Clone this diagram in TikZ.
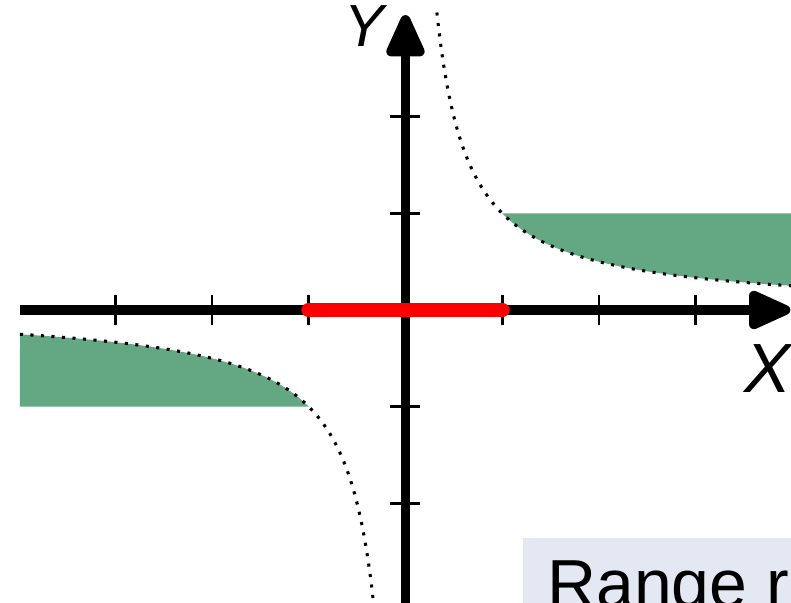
\documentclass[tikz,border=0pt]{standalone}
\usepackage{fontspec}
\setmainfont{Liberation Sans}
\usetikzlibrary{arrows.meta}
\definecolor{regiongreen}{RGB}{99,168,131}
\definecolor{boxbg}{RGB}{228,232,242}
\begin{document}
\begin{tikzpicture}[x=1cm,y=1cm,
  axisline/.style={line width=2.9pt},
  tickline/.style={line width=0.8pt},
  hyper/.style={line width=0.9pt, dash pattern=on 0.9pt off 2.2pt},
  axistip/.style={-{Triangle[length=14.5pt,width=12pt,round]}},
  axlab/.style={inner sep=0pt, anchor=base}]
\useasboundingbox (-4.193,-3.020) rectangle (3.987,3.206);
\clip (-4.193,-3.020) rectangle (3.987,3.206);
% shaded regions
\fill[regiongreen] (1,1) -- plot[domain=1:4.3,samples=80] (\x,{1/\x}) -- (4.3,1) -- cycle;
\fill[regiongreen] (-3.987,-1) -- (-1,-1) -- plot[domain=-1:-3.987,samples=80] (\x,{1/\x}) -- cycle;
% hyperbola
\draw[hyper] plot[domain=0.325:4.3,samples=200,smooth] (\x,{1/\x});
\draw[hyper] plot[domain=-3.987:-0.325,samples=200,smooth] (\x,{1/\x});
% ticks
\foreach \t in {-3,-2,-1,1,2,3} \draw[tickline] (\t,-0.155) -- (\t,0.155);
\foreach \t in {-2,-1,1,2} \draw[tickline] (-0.155,\t) -- (0.155,\t);
% axes
\coordinate (xl) at (-3.987,0);
\coordinate (xr) at (3.98,0);
\coordinate (yb) at (0,-3.3);
\coordinate (yt) at (0,3.05);
\draw[axisline,axistip] (xl) -- (xr);
\draw[axisline,axistip] (yb) -- (yt);
% red interval
\coordinate (rl) at (-1,0);
\coordinate (rr) at (1,0);
\draw[red,line width=4.4pt,line cap=round] (rl) -- (rr);
% labels
\node[axlab,font=\itshape\fontsize{17.5}{20}\selectfont] (ylab) at (-0.43,2.72) {Y};
\node[axlab,font=\itshape\fontsize{20.5}{24}\selectfont] (xlab) at (3.75,-0.85) {X};
% range box
\fill[boxbg] (1.215,-2.358) rectangle (4.3,-3.3);
\node[inner sep=0pt,anchor=base west,font=\fontsize{20}{24}\selectfont] (rangelab) at (1.46,-3.08) {Range r};
\end{tikzpicture}
\end{document}
